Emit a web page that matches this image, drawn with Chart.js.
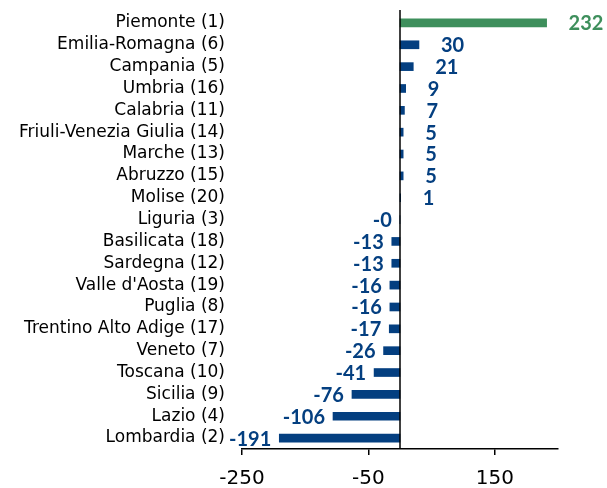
<!DOCTYPE html>
<html>
<head>
<meta charset="utf-8">
<script src="https://cdn.jsdelivr.net/npm/chart.js@4"></script>
<style>
  html, body { margin: 0; padding: 0; background: #fff; }
  #wrap { width: 607px; height: 488px; }
</style>
</head>
<body>
<div id="wrap"><canvas id="regionChart" width="607" height="488"></canvas></div>
<script>
// Regions (rank in brackets) and their values
const regions = ['Piemonte (1)', 'Emilia-Romagna (6)', 'Campania (5)', 'Umbria (16)', 'Calabria (11)',
  'Friuli-Venezia Giulia (14)', 'Marche (13)', 'Abruzzo (15)', 'Molise (20)', 'Liguria (3)',
  'Basilicata (18)', 'Sardegna (12)', "Valle d'Aosta (19)", 'Puglia (8)', 'Trentino Alto Adige (17)',
  'Veneto (7)', 'Toscana (10)', 'Sicilia (9)', 'Lazio (4)', 'Lombardia (2)'];
const values = [232, 30, 21, 9, 7, 5, 5, 5, 1, -0.2, -13, -13, -16, -16, -17, -26, -41, -76, -106, -191];
const xTicks = [-250, -50, 150];

const navy = '#043f80';
const green = '#3e8f5c';
const barColors = regions.map((r, i) => i === 0 ? green : navy);

const fmt = v => (v < 0 ? '-' : '') + Math.abs(Math.round(v));

// value labels and the zero line
const valueLabels = {
  id: 'valueLabels',
  afterDatasetsDraw(chart) {
    const { ctx, chartArea, scales: { x } } = chart;
    const zero = x.getPixelForValue(0);
    ctx.save();
    ctx.strokeStyle = '#000';
    ctx.lineWidth = 1.5;
    ctx.beginPath();
    ctx.moveTo(zero, chartArea.top - 2);
    ctx.lineTo(zero, chartArea.bottom);
    ctx.stroke();

    ctx.font = 'bold 20px Lato';
    ctx.textBaseline = 'middle';
    chart.getDatasetMeta(0).data.forEach((bar, i) => {
      const v = values[i];
      ctx.fillStyle = barColors[i];
      if (v >= 0) {
        ctx.textAlign = 'left';
        ctx.fillText(fmt(v), bar.x + 22, bar.y + 1);
      } else {
        ctx.textAlign = 'right';
        ctx.fillText(fmt(v), bar.x - 8, bar.y + 1);
      }
    });
    ctx.restore();
  }
};

const ctx = document.getElementById('regionChart').getContext('2d');
const chart = new Chart(ctx, {
  type: 'bar',
  data: {
    labels: regions,
    datasets: [{
      data: values,
      backgroundColor: barColors,
      barThickness: 8
    }]
  },
  options: {
    indexAxis: 'y',
    responsive: false,
    animation: false,
    layout: { padding: { top: 12, right: 49, bottom: 0, left: 0 } },
    plugins: { legend: { display: false }, tooltip: { enabled: false } },
    scales: {
      x: {
        min: -250,
        max: 250,
        afterBuildTicks: axis => { axis.ticks = xTicks.map(v => ({ value: v })); },
        afterFit: scale => { scale.height = 39; },
        grid: { drawOnChartArea: false, drawTicks: true, tickLength: 6, color: '#000', lineWidth: 1.5 },
        border: { color: '#000', width: 1.5 },
        ticks: { color: '#000', font: { family: 'DejaVu Sans', size: 20 }, padding: 12, maxRotation: 0 }
      },
      y: {
        grid: { display: false },
        border: { display: false },
        afterFit: scale => {
          scale.width = 242;
          scale.paddingTop = 0;
          scale.paddingBottom = 0;
        },
        ticks: { color: '#000', font: { family: 'DejaVu Sans', size: 17 }, padding: 9, autoSkip: false }
      }
    }
  },
  plugins: [valueLabels]
});
</script>
</body>
</html>
